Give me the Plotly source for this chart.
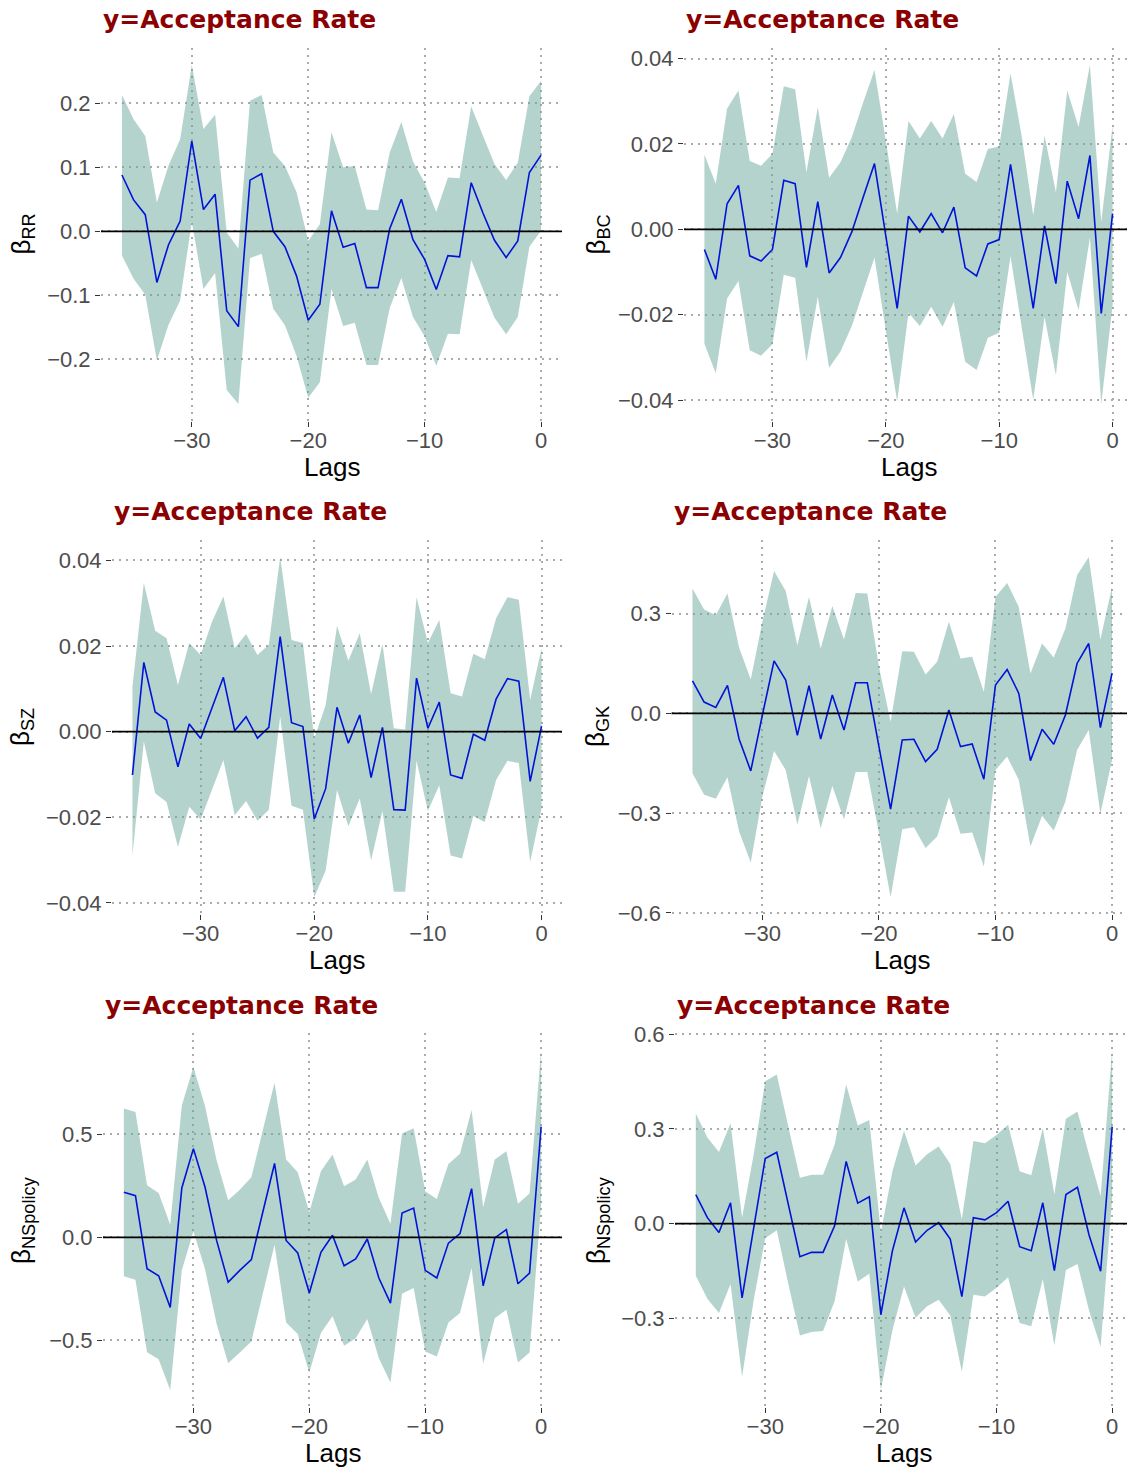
import plotly.graph_objects as go

lags = list(range(-36, 1))
x_tick_vals = [-30, -20, -10, 0]
x_tick_text = ["\u221230", "\u221220", "\u221210", "0"]
title_text = "y=Acceptance Rate"
x_title = "Lags"

# Panel 1: beta_RR
rr_est = [0.088, 0.049, 0.026, -0.080, -0.021, 0.016, 0.141, 0.034, 0.058, -0.124, -0.149, 0.080, 0.090,
          0.000, -0.024, -0.070, -0.139, -0.114, 0.032, -0.025, -0.019, -0.088, -0.088, 0.004, 0.050,
          -0.013, -0.044, -0.091, -0.038, -0.040, 0.076, 0.029, -0.014, -0.041, -0.015, 0.092, 0.119]
rr_hi = [0.213, 0.175, 0.149, 0.045, 0.103, 0.144, 0.260, 0.160, 0.182, -0.002, -0.027, 0.204, 0.213,
         0.123, 0.102, 0.061, -0.015, 0.011, 0.155, 0.100, 0.102, 0.034, 0.033, 0.123, 0.171,
         0.109, 0.076, 0.030, 0.084, 0.083, 0.195, 0.149, 0.105, 0.080, 0.107, 0.211, 0.235]
rr_lo = [-0.038, -0.074, -0.099, -0.202, -0.146, -0.108, 0.015, -0.090, -0.065, -0.248, -0.270, -0.042, -0.035,
         -0.121, -0.147, -0.195, -0.260, -0.236, -0.090, -0.148, -0.143, -0.209, -0.209, -0.120, -0.073,
         -0.134, -0.164, -0.210, -0.160, -0.161, -0.045, -0.091, -0.135, -0.161, -0.134, -0.024, 0.001]
rr_ticks = [-0.2, -0.1, 0.0, 0.1, 0.2]
rr_ticktext = ["\u22120.2", "\u22120.1", "0.0", "0.1", "0.2"]

# Panel 2: beta_BC
bc_est = [-0.0047, -0.0117, 0.0060, 0.0103, -0.0062, -0.0074, -0.0047, 0.0115, 0.0107, -0.0089, 0.0065, -0.0102, -0.0066,
          -0.0006, 0.0075, 0.0154, -0.0015, -0.0185, 0.0031, -0.0006, 0.0037, -0.0008, 0.0052, -0.0090, -0.0109,
          -0.0034, -0.0024, 0.0152, -0.0017, -0.0185, 0.0008, -0.0127, 0.0113, 0.0025, 0.0173, -0.0197, 0.0037]
bc_hi = [0.0175, 0.0107, 0.0283, 0.0325, 0.0160, 0.0149, 0.0177, 0.0335, 0.0328, 0.0134, 0.0286, 0.0121, 0.0157,
         0.0216, 0.0297, 0.0373, 0.0208, 0.0037, 0.0254, 0.0213, 0.0254, 0.0213, 0.0270, 0.0130, 0.0111,
         0.0188, 0.0194, 0.0365, 0.0216, 0.0033, 0.0219, 0.0087, 0.0325, 0.0240, 0.0385, 0.0017, 0.0243]
bc_lo = [-0.0268, -0.0337, -0.0162, -0.0121, -0.0283, -0.0296, -0.0269, -0.0106, -0.0113, -0.0310, -0.0158, -0.0324, -0.0286,
         -0.0226, -0.0146, -0.0066, -0.0236, -0.0403, -0.0195, -0.0226, -0.0181, -0.0228, -0.0170, -0.0310, -0.0329,
         -0.0254, -0.0242, -0.0063, -0.0232, -0.0399, -0.0205, -0.0341, -0.0100, -0.0189, -0.0019, -0.0409, -0.0177]
bc_ticks = [-0.04, -0.02, 0.0, 0.02, 0.04]
bc_ticktext = ["\u22120.04", "\u22120.02", "0.00", "0.02", "0.04"]

# Panel 3: beta_SZ
sz_est = [-0.0101, 0.0162, 0.0046, 0.0027, -0.0082, 0.0018, -0.0016, 0.0057, 0.0127, 0.0002, 0.0035, -0.0015, 0.0010,
          0.0222, 0.0021, 0.0012, -0.0204, -0.0133, 0.0057, -0.0027, 0.0039, -0.0107, 0.0010, -0.0182, -0.0183,
          0.0125, 0.0008, 0.0069, -0.0101, -0.0109, -0.0006, -0.0020, 0.0076, 0.0124, 0.0118, -0.0116, 0.0013]
sz_hi = [0.0105, 0.0347, 0.0236, 0.0218, 0.0109, 0.0207, 0.0179, 0.0257, 0.0316, 0.0195, 0.0228, 0.0179, 0.0203,
         0.0408, 0.0214, 0.0207, -0.0016, 0.0062, 0.0247, 0.0166, 0.0230, 0.0088, 0.0205, 0.0008, 0.0005,
         0.0314, 0.0207, 0.0261, 0.0090, 0.0082, 0.0182, 0.0169, 0.0265, 0.0314, 0.0308, 0.0074, 0.0195]
sz_lo = [-0.0289, -0.0023, -0.0144, -0.0164, -0.0269, -0.0175, -0.0205, -0.0133, -0.0066, -0.0195, -0.0162, -0.0208, -0.0182,
         0.0035, -0.0173, -0.0182, -0.0386, -0.0324, -0.0136, -0.0221, -0.0156, -0.0300, -0.0185, -0.0374, -0.0374,
         -0.0068, -0.0185, -0.0125, -0.0289, -0.0296, -0.0197, -0.0211, -0.0113, -0.0068, -0.0073, -0.0304, -0.0179]
sz_ticks = [-0.04, -0.02, 0.0, 0.02, 0.04]
sz_ticktext = ["\u22120.04", "\u22120.02", "0.00", "0.02", "0.04"]

# Panel 4: beta_GK
gk_est = [0.098, 0.034, 0.018, 0.084, -0.077, -0.173, -0.005, 0.158, 0.100, -0.066, 0.083, -0.077, 0.055,
          -0.050, 0.092, 0.092, -0.100, -0.288, -0.080, -0.078, -0.145, -0.108, 0.010, -0.100, -0.092,
          -0.198, 0.085, 0.132, 0.060, -0.142, -0.048, -0.093, -0.005, 0.150, 0.210, -0.043, 0.120]
gk_hi = [0.375, 0.312, 0.295, 0.360, 0.198, 0.102, 0.275, 0.428, 0.368, 0.205, 0.350, 0.195, 0.323,
         0.222, 0.362, 0.360, 0.140, -0.025, 0.187, 0.185, 0.117, 0.155, 0.275, 0.165, 0.170,
         0.065, 0.350, 0.392, 0.320, 0.120, 0.210, 0.168, 0.255, 0.415, 0.470, 0.222, 0.380]
gk_lo = [-0.180, -0.245, -0.257, -0.192, -0.355, -0.448, -0.250, -0.113, -0.170, -0.335, -0.188, -0.345, -0.218,
         -0.318, -0.176, -0.176, -0.360, -0.552, -0.348, -0.342, -0.405, -0.370, -0.252, -0.362, -0.358,
         -0.460, -0.170, -0.130, -0.200, -0.400, -0.308, -0.352, -0.265, -0.110, -0.050, -0.302, -0.140]
gk_ticks = [-0.6, -0.3, 0.0, 0.3]
gk_ticktext = ["\u22120.6", "\u22120.3", "0.0", "0.3"]

# Panel 5: beta_NSpolicy (left)
ns1_est = [0.218, 0.202, -0.152, -0.186, -0.340, 0.239, 0.430, 0.244, -0.015, -0.217, -0.160, -0.108, 0.125,
           0.358, -0.015, -0.076, -0.270, -0.073, 0.010, -0.138, -0.105, -0.008, -0.197, -0.319, 0.118,
           0.142, -0.160, -0.197, -0.028, 0.018, 0.236, -0.235, -0.003, 0.037, -0.225, -0.173, 0.536]
ns1_hi = [0.625, 0.607, 0.252, 0.215, 0.061, 0.639, 0.825, 0.636, 0.374, 0.180, 0.231, 0.291, 0.523,
          0.749, 0.377, 0.316, 0.121, 0.320, 0.401, 0.248, 0.280, 0.377, 0.191, 0.066, 0.503,
          0.529, 0.223, 0.186, 0.356, 0.405, 0.617, 0.146, 0.377, 0.417, 0.163, 0.212, 0.908]
ns1_lo = [-0.189, -0.206, -0.557, -0.591, -0.740, -0.160, 0.029, -0.154, -0.419, -0.610, -0.558, -0.505, -0.270,
          -0.036, -0.413, -0.468, -0.655, -0.464, -0.383, -0.526, -0.489, -0.396, -0.586, -0.704, -0.273,
          -0.246, -0.553, -0.578, -0.413, -0.367, -0.149, -0.613, -0.392, -0.351, -0.607, -0.558, 0.160]
ns1_ticks = [-0.5, 0.0, 0.5]
ns1_ticktext = ["\u22120.5", "0.0", "0.5"]

# Panel 6: beta_NSpolicy (right)
ns2_est = [0.092, 0.019, -0.028, 0.066, -0.235, -0.015, 0.206, 0.226, 0.060, -0.105, -0.091, -0.091, -0.007,
           0.197, 0.065, 0.085, -0.288, -0.086, 0.050, -0.058, -0.021, 0.003, -0.049, -0.231, 0.019,
           0.012, 0.035, 0.071, -0.073, -0.086, 0.066, -0.149, 0.092, 0.115, -0.036, -0.151, 0.307]
ns2_hi = [0.349, 0.273, 0.227, 0.318, 0.019, 0.218, 0.451, 0.472, 0.307, 0.145, 0.155, 0.155, 0.250,
          0.441, 0.311, 0.328, -0.028, 0.166, 0.294, 0.184, 0.220, 0.244, 0.189, 0.014, 0.262,
          0.255, 0.281, 0.313, 0.166, 0.153, 0.302, 0.092, 0.332, 0.355, 0.218, 0.087, 0.550]
ns2_lo = [-0.165, -0.238, -0.283, -0.191, -0.485, -0.243, -0.046, -0.021, -0.191, -0.354, -0.343, -0.340, -0.246,
          -0.049, -0.183, -0.159, -0.527, -0.338, -0.199, -0.298, -0.262, -0.241, -0.291, -0.469, -0.225,
          -0.231, -0.203, -0.170, -0.315, -0.325, -0.175, -0.385, -0.147, -0.128, -0.275, -0.390, 0.082]
ns2_ticks = [-0.3, 0.0, 0.3, 0.6]
ns2_ticktext = ["\u22120.3", "0.0", "0.3", "0.6"]

W, H = 1127, 1469
ROWS = [(48, 421), (540, 914), (1033, 1407)]

panels = [
    dict(est=rr_est, lo=rr_lo, hi=rr_hi, ylab="\u03b2<sub>RR</sub>", tv=rr_ticks, tt=rr_ticktext, left=101, right=562, clip=562, row=0, labx=22),
    dict(est=bc_est, lo=bc_lo, hi=bc_hi, ylab="\u03b2<sub>BC</sub>", tv=bc_ticks, tt=bc_ticktext, left=684, right=1133, clip=1127, row=0, labx=597),
    dict(est=sz_est, lo=sz_lo, hi=sz_hi, ylab="\u03b2<sub>SZ</sub>", tv=sz_ticks, tt=sz_ticktext, left=112, right=562, clip=562, row=1, labx=22),
    dict(est=gk_est, lo=gk_lo, hi=gk_hi, ylab="\u03b2<sub>GK</sub>", tv=gk_ticks, tt=gk_ticktext, left=671.5, right=1133, clip=1127, row=1, labx=597),
    dict(est=ns1_est, lo=ns1_lo, hi=ns1_hi, ylab="\u03b2<sub>NSpolicy</sub>", tv=ns1_ticks, tt=ns1_ticktext, left=103, right=562, clip=562, row=2, labx=22),
    dict(est=ns2_est, lo=ns2_lo, hi=ns2_hi, ylab="\u03b2<sub>NSpolicy</sub>", tv=ns2_ticks, tt=ns2_ticktext, left=675, right=1133, clip=1127, row=2, labx=597),
]

BAND = "rgba(108,168,156,0.5)"
LINE = "rgb(0,20,215)"
GRID = "#ABABAB"
TICKFONT = dict(family="Liberation Sans, Arial, sans-serif", size=22, color="#4D4D4D")

fig = go.Figure()
annotations = []
shapes = []
layout = {}

for i, p in enumerate(panels):
    n = i + 1
    xa = "x" if n == 1 else f"x{n}"
    ya = "y" if n == 1 else f"y{n}"
    top, bottom = ROWS[p["row"]]

    span_x = lags[-1] - lags[0]
    x0 = lags[0] - 0.05 * span_x
    x1_full = lags[-1] + 0.05 * span_x
    x1 = x0 + (x1_full - x0) * (p["clip"] - p["left"]) / (p["right"] - p["left"])
    ymin, ymax = min(p["lo"]), max(p["hi"])
    sy = ymax - ymin
    yr = [ymin - 0.05 * sy, ymax + 0.05 * sy]

    fig.add_trace(go.Scatter(x=lags, y=p["lo"], mode="lines", line=dict(width=0),
                             hoverinfo="skip", showlegend=False, xaxis=xa, yaxis=ya))
    fig.add_trace(go.Scatter(x=lags, y=p["hi"], mode="lines", line=dict(width=0),
                             fill="tonexty", fillcolor=BAND, hoverinfo="skip",
                             showlegend=False, xaxis=xa, yaxis=ya))
    fig.add_trace(go.Scatter(x=lags, y=p["est"], mode="lines", line=dict(color=LINE, width=1.6),
                             showlegend=False, xaxis=xa, yaxis=ya))

    xkey = "xaxis" if n == 1 else f"xaxis{n}"
    ykey = "yaxis" if n == 1 else f"yaxis{n}"
    layout[xkey] = dict(
        domain=[p["left"] / W, p["clip"] / W], range=[x0, x1], anchor=ya,
        tickmode="array", tickvals=x_tick_vals, ticktext=x_tick_text,
        ticks="outside", ticklen=5, tickwidth=1.2, tickcolor="#333333", ticklabelstandoff=-5,
        showgrid=True, gridcolor=GRID, gridwidth=1.5, griddash="2px,5px",
        zeroline=False, showline=False, tickfont=TICKFONT, automargin=False,
    )
    layout[ykey] = dict(
        domain=[(H - bottom) / H, (H - top) / H], range=yr, anchor=xa,
        tickmode="array", tickvals=p["tv"], ticktext=p["tt"],
        ticks="outside", ticklen=5, tickwidth=1.2, tickcolor="#333333",
        showgrid=True, gridcolor=GRID, gridwidth=1.5, griddash="2px,5px",
        zeroline=False, showline=False, tickfont=TICKFONT, automargin=False,
    )

    shapes.append(dict(type="line", xref=f"{xa} domain", yref=ya, x0=0, x1=1, y0=0, y1=0,
                       line=dict(color="black", width=1.8), layer="above"))

    annotations.append(dict(text=title_text, xref="paper", yref="paper",
                            x=p["left"] / W, y=(H - (top - 28)) / H, xanchor="left", yanchor="middle",
                            showarrow=False,
                            font=dict(family="DejaVu Sans, sans-serif", size=25, color="#8B0000", weight="bold")))
    annotations.append(dict(text=x_title, xref=xa, yref="paper",
                            x=(x0 + x1_full) / 2, y=(H - (bottom + 46)) / H, xanchor="center", yanchor="middle",
                            showarrow=False,
                            font=dict(family="Liberation Sans, Arial, sans-serif", size=26, color="black")))
    annotations.append(dict(text=p["ylab"], xref="paper", yref="paper",
                            x=p["labx"] / W, y=(H - (top + bottom) / 2) / H, xanchor="center", yanchor="middle",
                            textangle=-90, showarrow=False,
                            font=dict(family="Liberation Sans, Arial, sans-serif", size=26, color="black")))

fig.update_layout(
    width=W, height=H, autosize=False,
    margin=dict(l=0, r=0, t=0, b=0, pad=0, autoexpand=False),
    paper_bgcolor="white", plot_bgcolor="white",
    showlegend=False,
    annotations=annotations, shapes=shapes,
    **layout,
)

fig.write_html("out.html", config={"displayModeBar": False},
               post_script="document.body.style.margin='0';")
